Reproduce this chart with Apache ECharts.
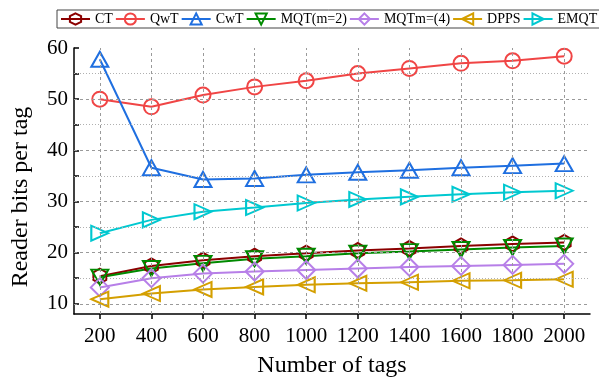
<!DOCTYPE html>
<html>
<head>
<meta charset="utf-8">
<script src="https://cdn.jsdelivr.net/npm/echarts@6/dist/echarts.min.js"></script>
<style>html,body{margin:0;padding:0;background:#fff;}#c{width:599px;height:378px;}</style>
</head>
<body>
<div id="c"></div>
<script>
const tags = [200, 400, 600, 800, 1000, 1200, 1400, 1600, 1800, 2000];
const yMajor = [10, 20, 30, 40, 50, 60];
const yMinor = [15, 25, 35, 45, 55];
const CT   = [15.4, 17.4, 18.5, 19.3, 19.9, 20.4, 20.8, 21.3, 21.7, 22.0];
const QwT  = [50.0, 48.5, 50.8, 52.4, 53.6, 55.0, 56.0, 57.0, 57.5, 58.4];
const CwT  = [57.8, 36.6, 34.3, 34.5, 35.2, 35.7, 36.1, 36.6, 37.0, 37.4];
const MQT2 = [15.2, 16.9, 17.9, 18.8, 19.3, 19.9, 20.2, 20.6, 21.0, 21.3];
const MQT4 = [13.2, 15.0, 15.9, 16.3, 16.6, 16.9, 17.2, 17.4, 17.6, 17.8];
const DPPS = [10.9, 12.0, 12.8, 13.3, 13.7, 14.0, 14.2, 14.5, 14.6, 14.8];
const EMQT = [23.8, 26.4, 28.0, 28.8, 29.7, 30.4, 30.9, 31.4, 31.8, 32.1];

const pair = arr => tags.map((t, i) => [t, arr[i]]);
const hexPath = 'path://M0,-10L8.66,-5L8.66,5L0,10L-8.66,5L-8.66,-5Z';
const font = '"Liberation Serif", "Times New Roman", serif';

function mk(name, data, color, symbol, size, rotate) {
  return {
    name: name, type: 'line', data: pair(data),
    symbol: symbol, symbolSize: size, symbolRotate: rotate || 0,
    showAllSymbol: true,
    lineStyle: { color: color, width: 2 },
    itemStyle: { color: 'transparent', borderColor: color, borderWidth: 2 },
    color: color,
    z: 3
  };
}

const gridSeries = {
  name: '_grid', type: 'line', data: [], z: 1, silent: true,
  markLine: {
    silent: true, symbol: 'none', animation: false,
    label: { show: false },
    emphasis: { disabled: true },
    data: []
      .concat(yMajor.filter(v => v < 60).map(v => ({ yAxis: v, lineStyle: { color: '#9a9a9a', type: [3, 3], width: 1 } })))
      .concat(yMinor.map(v => ({ yAxis: v, lineStyle: { color: '#b0b0b0', type: [1, 2], width: 1 } })))
      .concat(tags.map(v => ({ xAxis: v, lineStyle: { color: '#9a9a9a', type: [3, 3], width: 1 } })))
  }
};

const chart = echarts.init(document.getElementById('c'), null, { renderer: 'canvas' });
chart.setOption({
  animation: false,
  backgroundColor: '#fff',
  textStyle: { fontFamily: font },
  grid: { left: 74, right: 9, top: 48, bottom: 64, containLabel: false, outerBoundsMode: 'none' },
  legend: {
    left: 57, top: 10, width: 580,
    padding: [2, 3, 2, 3],
    itemGap: 2, itemWidth: 29, itemHeight: 14,
    borderColor: '#444', borderWidth: 1,
    textStyle: { fontFamily: font, fontSize: 14, color: '#000' },
    data: ['CT', 'QwT', 'CwT', 'MQT(m=2)', 'MQTm=(4)', 'DPPS', 'EMQT']
  },
  xAxis: {
    type: 'value', min: 100, max: 2100,
    name: 'Number of tags', nameLocation: 'middle', nameGap: 40,
    nameTextStyle: { fontFamily: font, fontSize: 24, color: '#000' },
    axisLine: { show: true, lineStyle: { color: '#000', width: 1.5 } },
    axisTick: { show: true, inside: false, length: 5, customValues: tags, lineStyle: { color: '#000', width: 1.5 } },
    axisLabel: { customValues: tags, margin: 12, fontFamily: font, fontSize: 21, color: '#000', formatter: v => String(v) },
    splitLine: { show: false }
  },
  yAxis: {
    type: 'value', min: 8, max: 60,
    name: 'Reader bits per tag', nameLocation: 'middle', nameGap: 41,
    nameTextStyle: { fontFamily: font, fontSize: 24, color: '#000', padding: [0, 32, 0, 0] },
    axisLine: { show: true, lineStyle: { color: '#000', width: 1.5 } },
    axisTick: { show: true, inside: true, length: 5, customValues: yMajor.concat(yMinor), lineStyle: { color: '#000', width: 1.5 } },
    axisLabel: { customValues: yMajor, margin: 6, fontFamily: font, fontSize: 21, color: '#000', formatter: v => String(v) },
    splitLine: { show: false }
  },
  series: [
    gridSeries,
    mk('CT', CT, '#8B0000', hexPath, [13, 15]),
    mk('QwT', QwT, '#F04545', 'circle', 15),
    mk('CwT', CwT, '#1F6FE0', 'triangle', [17, 15]),
    mk('MQT(m=2)', MQT2, '#008A00', 'triangle', [17, 15], 180),
    mk('MQTm=(4)', MQT4, '#B77FE8', 'diamond', [18, 18]),
    mk('DPPS', DPPS, '#D49F00', 'triangle', [15, 17], 90),
    mk('EMQT', EMQT, '#00C8D0', 'triangle', [15, 17], -90)
  ]
});
</script>
</body>
</html>
